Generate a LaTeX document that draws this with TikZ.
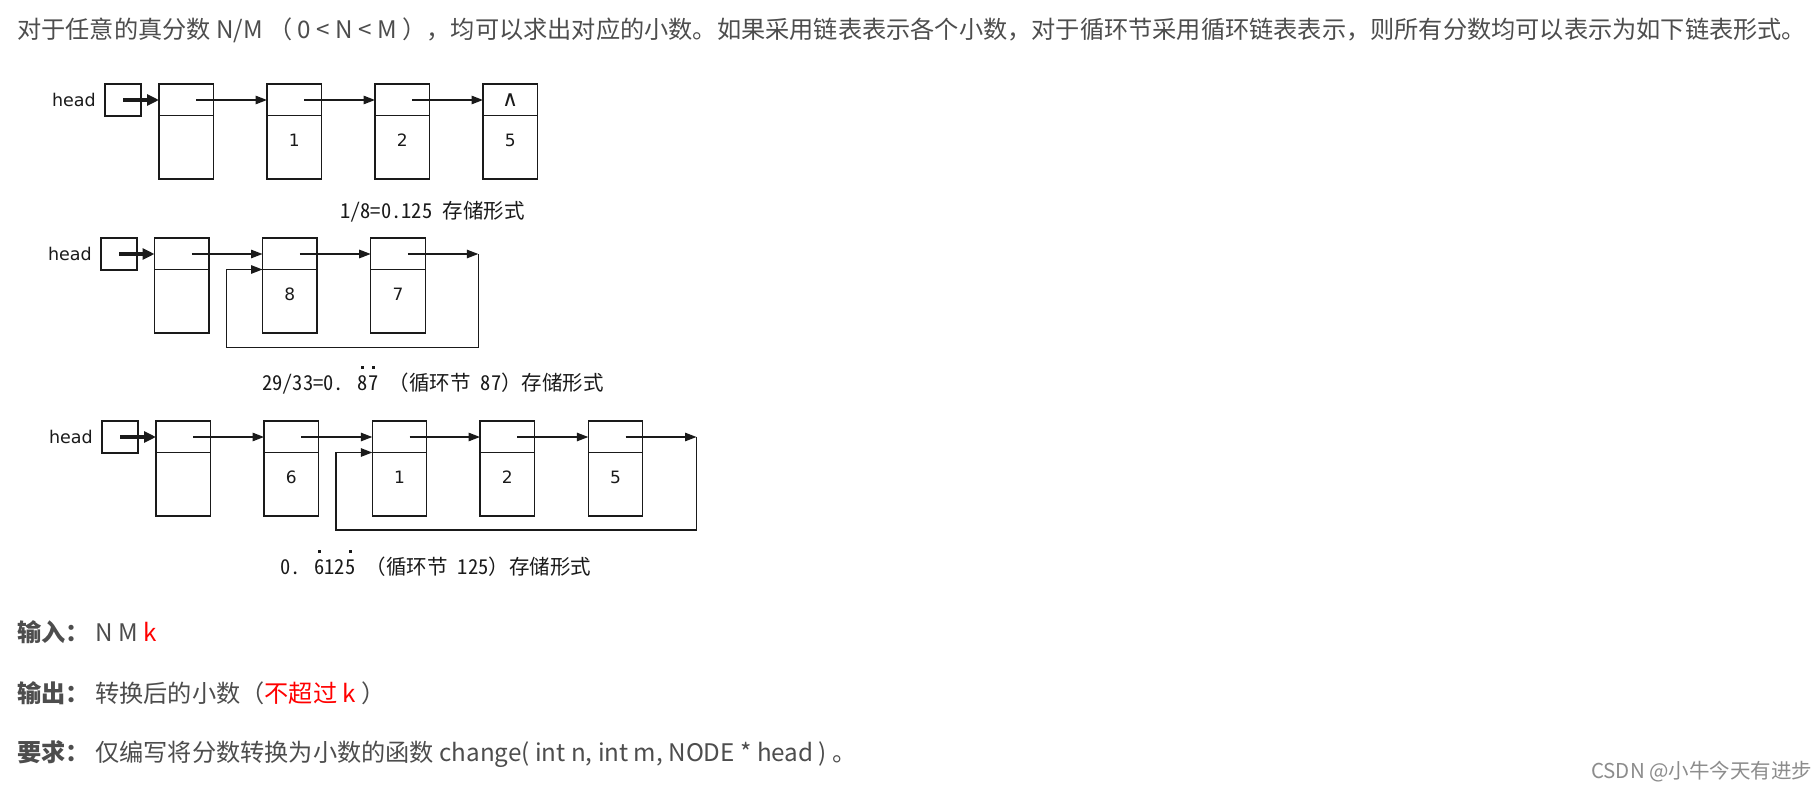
\documentclass[tikz,border=0pt]{standalone}
\usepackage{fontspec}
\setmainfont{Noto Sans CJK SC}
\newfontfamily\labf{Noto Sans CJK SC}[RawFeature=+hwid]
\newfontfamily\labcjk{Noto Sans CJK SC}
\newfontfamily\dvs{DejaVu Sans}
\usetikzlibrary{arrows.meta}
\definecolor{txt}{HTML}{4D4D4D}
\definecolor{lc}{HTML}{1A1A1A}
\definecolor{wm}{HTML}{8C8C8C}
\newcommand\dotabove[1]{\ooalign{#1\cr\hidewidth\raisebox{21.5pt}{\rule{3pt}{3pt}}\hidewidth\cr}}
\tikzset{
 lnode/.style={draw=lc, line width=1.3pt, minimum width=54.5pt, minimum height=95pt, inner sep=0pt, outer sep=0pt, anchor=north west,
   path picture={\draw[draw=lc, line width=1.3pt] ([yshift=-31.5pt]path picture bounding box.north west) -- ([yshift=-31.5pt]path picture bounding box.north east);}},
 hbox/.style={draw=lc, line width=1.3pt, minimum width=36pt, minimum height=32pt, inner sep=0pt, outer sep=0pt, anchor=north west},
 htext/.style={font=\dvs\fontsize{17.5}{20}\selectfont, text=lc, anchor=east, inner sep=0pt},
 num/.style={font=\dvs\fontsize{17}{20}\selectfont, text=lc, inner sep=0pt},
 nullsym/.style={font=\dvs\fontsize{22}{24}\selectfont, text=lc, inner sep=0pt},
 lab/.style={font=\labf\fontsize{20.5}{24}\selectfont, text=lc, anchor=base west, inner sep=0pt},
 link/.style={draw=lc, line width=1.3pt, -{Triangle[length=11.5pt,width=8.5pt]}},
 harr/.style={draw=lc, line width=3.5pt, -{Triangle[length=12pt,width=11pt]}},
 body/.style={font=\fontsize{24.2}{28}\selectfont, text=txt, anchor=base west, inner sep=0pt},
 bodyb/.style={body, font=\bfseries\fontsize{24.2}{28}\selectfont},
}
\begin{document}
\begin{tikzpicture}[x=1pt,y=-1pt]
\useasboundingbox (0,0) rectangle (1818,789);
\fill[white] (0,0) rectangle (1818,789);

% text line 1
\node[body] (t1) at (17,38.3) {对于任意的真分数 N/M （ 0 < N < M ），均可以求出对应的小数。如果采用链表表示各个小数，对于循环节采用循环链表表示，则所有分数均可以表示为如下链表形式。};

% ---------- row 1 ----------
\node[hbox] (h1) at (105,84) {};
\node[htext] (h1t) at ([xshift=-9pt]h1.west) {head};
\node[lnode] (a1) at (159,84) {};
\node[lnode] (a2) at (267,84) {};
\node[lnode] (a3) at (375,84) {};
\node[lnode] (a4) at (483,84) {};
\node[num] (a2v) at ([yshift=-8.5pt]a2.center) {1};
\node[num] (a3v) at ([yshift=-8.5pt]a3.center) {2};
\node[num] (a4v) at ([yshift=-8.5pt]a4.center) {5};
\node[nullsym] (a4n) at ([yshift=-16pt]a4.north) {∧};
\draw[harr] (h1.center) -- (h1.center -| a1.west);
\draw[link] ([xshift=10pt,yshift=-16pt]a1.north) -- ([yshift=-16pt]a2.north west);
\draw[link] ([xshift=10pt,yshift=-16pt]a2.north) -- ([yshift=-16pt]a3.north west);
\draw[link] ([xshift=10pt,yshift=-16pt]a3.north) -- ([yshift=-16pt]a4.north west);
\node[lab] (l1) at (340,218.5) {1/8=0.125 存储形式};

% ---------- row 2 ----------
\node[hbox] (h2) at (101,238) {};
\node[htext] (h2t) at ([xshift=-9pt]h2.west) {head};
\node[lnode] (b1) at (154.5,238) {};
\node[lnode] (b2) at (262.5,238) {};
\node[lnode] (b3) at (370.7,238) {};
\node[num] (b2v) at ([yshift=-8.5pt]b2.center) {8};
\node[num] (b3v) at ([yshift=-8.5pt]b3.center) {7};
\draw[harr] (h2.center) -- (h2.center -| b1.west);
\draw[link] ([xshift=10pt,yshift=-16pt]b1.north) -- ([yshift=-16pt]b2.north west);
\draw[link] ([xshift=10pt,yshift=-16pt]b2.north) -- ([yshift=-16pt]b3.north west);
\coordinate (b3r) at ([xshift=53.1pt,yshift=-16pt]b3.north east);
\coordinate (b2b) at (226.7,347.3);
\draw[link] ([xshift=10pt,yshift=-16pt]b3.north) -- (b3r);
\draw[link] (b3r) |- (b2b) |- ([yshift=-31.5pt]b2.north west);
\node[lab] (l2) at (262,390) {29/33=0. \dotabove{8}\dotabove{7} {\labcjk（}循环节 87{\labcjk）}存储形式};

% ---------- row 3 ----------
\node[hbox] (h3) at (102,421) {};
\node[htext] (h3t) at ([xshift=-9pt]h3.west) {head};
\node[lnode] (c1) at (156,421) {};
\node[lnode] (c2) at (264,421) {};
\node[lnode] (c3) at (372.3,421) {};
\node[lnode] (c4) at (480,421) {};
\node[lnode] (c5) at (588.3,421) {};
\node[num] (c2v) at ([yshift=-8.5pt]c2.center) {6};
\node[num] (c3v) at ([yshift=-8.5pt]c3.center) {1};
\node[num] (c4v) at ([yshift=-8.5pt]c4.center) {2};
\node[num] (c5v) at ([yshift=-8.5pt]c5.center) {5};
\draw[harr] (h3.center) -- (h3.center -| c1.west);
\draw[link] ([xshift=10pt,yshift=-16pt]c1.north) -- ([yshift=-16pt]c2.north west);
\draw[link] ([xshift=10pt,yshift=-16pt]c2.north) -- ([yshift=-16pt]c3.north west);
\draw[link] ([xshift=10pt,yshift=-16pt]c3.north) -- ([yshift=-16pt]c4.north west);
\draw[link] ([xshift=10pt,yshift=-16pt]c4.north) -- ([yshift=-16pt]c5.north west);
\coordinate (c5r) at ([xshift=53.7pt,yshift=-16pt]c5.north east);
\coordinate (c3b) at (336,530);
\draw[link] ([xshift=10pt,yshift=-16pt]c5.north) -- (c5r);
\draw[link] (c5r) |- (c3b) |- ([yshift=-31.5pt]c3.north west);
\node[lab] (l3) at (280,574.5) {0. \dotabove{6}12\dotabove{5} {\labcjk（}循环节 125{\labcjk）}存储形式};

% ---------- bottom text ----------
\node[bodyb] (k1) at (17,641.3) {输入：};
\node[body] (v1) at (95,641.3) {N M \textcolor{red}{k}};
\node[bodyb] (k2) at (17,702) {输出：};
\node[body] (v2) at (95,702) {转换后的小数（\textcolor{red}{不超过 k} ）};
\node[bodyb] (k3) at (17,761.6) {要求：};
\node[body] (v3) at (95,761.6) {仅编写将分数转换为小数的函数 change( int n, int m, NODE * head ) 。};
\node[body, font=\fontsize{20.5}{24}\selectfont, text=wm] (wmk) at (1591,778) {CSDN @小牛今天有进步};
\end{tikzpicture}
\end{document}
